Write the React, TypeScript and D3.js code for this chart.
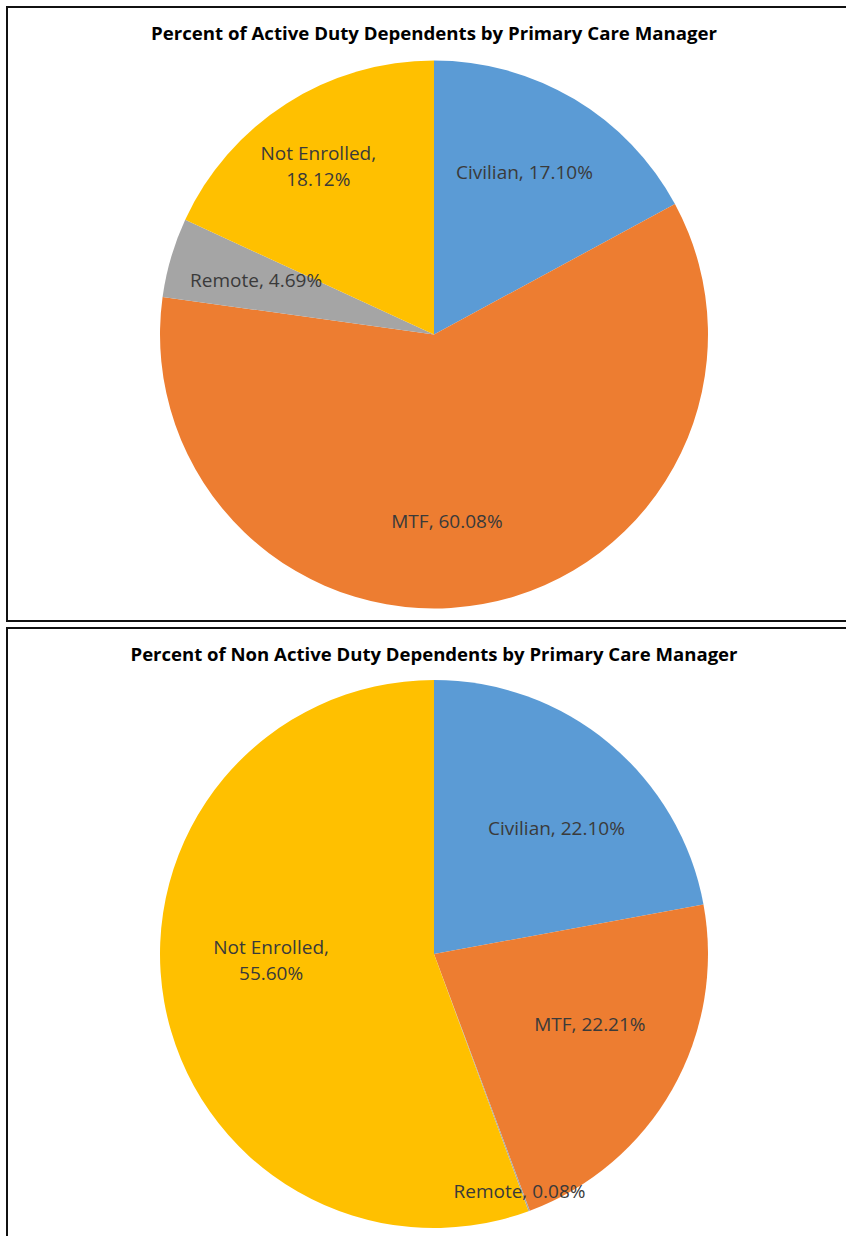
import React from "react";
import * as d3 from "d3";

const categories = ["Civilian", "MTF", "Remote", "Not Enrolled"];
const activeValues = [17.10, 60.08, 4.69, 18.12];
const nonActiveValues = [22.10, 22.21, 0.08, 55.60];
const sliceColors = ["#5B9BD5", "#ED7D31", "#A5A5A5", "#FFC000"];
const titles = [
  "Percent of Active Duty Dependents by Primary Care Manager",
  "Percent of Non Active Duty Dependents by Primary Care Manager",
];

// label placement (angle offset in degrees, radius fraction), per slice
const activeLabelLayout = [
  { da: -1.7, rf: 0.679 },
  { da: 6.3, rf: 0.682 },
  { da: 0.7, rf: 0.679 },
  { da: -1.9, rf: 0.745 },
];
const nonActiveLabelLayout = [
  { da: 4.5, rf: 0.64 },
  { da: -5.3, rf: 0.624 },
  { da: 0.5, rf: 0.92 },
  { da: 8.0, rf: 0.595 },
];

const W = 846;
const H = 1236;
const R = 274;

function Pie({ values, layout, cx, cy, title, titleY, titleLen }) {
  const data = categories.map((c, i) => ({ c, v: values[i], i }));
  const pie = d3.pie<any>().sort(null).value((d) => d.v);
  const arcs = pie(data);
  const arc = d3.arc<any>().innerRadius(0).outerRadius(R);
  return (
    <g>
      <text
        x={cx}
        y={titleY}
        textAnchor="middle"
        dominantBaseline="central"
        fontFamily="'Open Sans', sans-serif"
        fontWeight="bold"
        fontSize={18}
        fill="#000"
        textLength={titleLen}
        lengthAdjust="spacingAndGlyphs"
      >
        {title}
      </text>
      <g transform={`translate(${cx},${cy})`}>
        {arcs.map((a, i) => (
          <path key={i} d={arc(a) || ""} fill={sliceColors[i]} />
        ))}
        {arcs.map((a, i) => {
          const mid = (a.startAngle + a.endAngle) / 2 + (layout[i].da * Math.PI) / 180;
          const r = layout[i].rf * R;
          const x = Math.sin(mid) * r;
          const y = -Math.cos(mid) * r;
          const pct = a.data.v.toFixed(2) + "%";
          const lines =
            a.data.c === "Not Enrolled" ? [a.data.c + ",", pct] : [a.data.c + ", " + pct];
          const lh = 26;
          return (
            <text
              key={"l" + i}
              x={x}
              y={y - ((lines.length - 1) * lh) / 2}
              textAnchor="middle"
              dominantBaseline="central"
              fontFamily="'Open Sans', sans-serif"
              fontSize={19}
              fill="#3a3a3a"
            >
              {lines.map((ln, j) => (
                <tspan key={j} x={x} dy={j === 0 ? 0 : lh}>
                  {ln}
                </tspan>
              ))}
            </text>
          );
        })}
      </g>
    </g>
  );
}

export default function App() {
  return (
    <svg
      width={W}
      height={H}
      style={{ position: "absolute", left: 0, top: 0, background: "#fff" }}
    >
      <rect x={0} y={0} width={W} height={H} fill="#fff" />
      <rect x={7} y={7} width={W + 10} height={614} fill="#fff" stroke="#111" strokeWidth={2} />
      <rect x={7} y={628} width={W + 10} height={H} fill="#fff" stroke="#111" strokeWidth={2} />
      <Pie
        values={activeValues}
        layout={activeLabelLayout}
        cx={434}
        cy={334.5}
        title={titles[0]}
        titleY={33}
        titleLen={566}
      />
      <Pie
        values={nonActiveValues}
        layout={nonActiveLabelLayout}
        cx={434}
        cy={954}
        title={titles[1]}
        titleY={654}
        titleLen={607}
      />
    </svg>
  );
}
